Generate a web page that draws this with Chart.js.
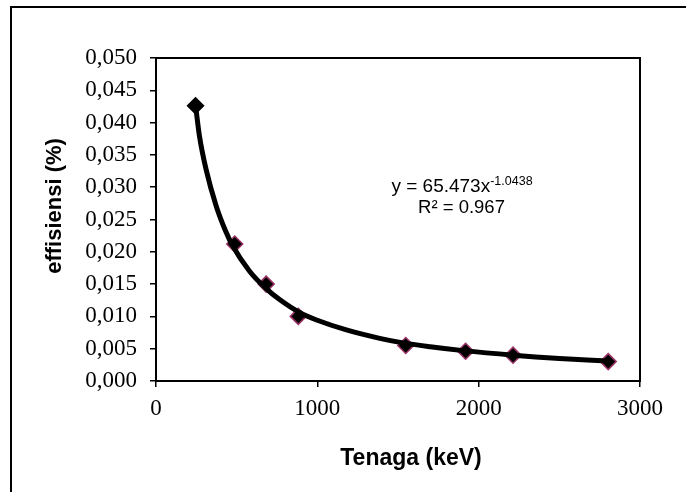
<!DOCTYPE html>
<html>
<head>
<meta charset="utf-8">
<script src="https://cdn.jsdelivr.net/npm/chart.js@4.4.1/dist/chart.umd.min.js"></script>
<style>
  html, body { margin: 0; padding: 0; background: #ffffff; }
  #wrap { width: 686px; height: 492px; position: relative; }
</style>
</head>
<body>
<div id="wrap"><canvas id="c" width="686" height="492"></canvas></div>
<script>
// Measured points (Tenaga in keV, efisiensi)
const energies = [245, 488, 683, 882, 1548, 1919, 2213, 2803];
const efficiencies = [0.0426, 0.0212, 0.0150, 0.0100, 0.0055, 0.0046, 0.0040, 0.0030];

// Trendline
const trendEnergies = [245, 269, 310, 373, 430, 476, 580, 683, 766, 890, 1000, 1180, 1387, 1530, 1700, 1904, 2215, 2500, 2803];
const trendEfficiencies = [0.0427, 0.0380, 0.0328, 0.0271, 0.0233, 0.0209, 0.0170, 0.0143, 0.0126, 0.0106, 0.0094, 0.0079, 0.0066, 0.0059, 0.0053, 0.0047, 0.0040, 0.0035, 0.0031];

// Axes
const xTickValues = [0, 1000, 2000, 3000];
const yTickValues = [0, 0.005, 0.010, 0.015, 0.020, 0.025, 0.030, 0.035, 0.040, 0.045, 0.050];
const xTitle = 'Tenaga (keV)';
const yTitle = 'effisiensi (%)';
const equationMain = 'y = 65.473x';
const equationExp = '-1.0438';
const rSquared = 'R\u00B2 = 0.967';

const pointData = energies.map((x, i) => ({ x: x, y: efficiencies[i] }));
const trendData = trendEnergies.map((x, i) => ({ x: x, y: trendEfficiencies[i] }));

const decorPlugin = {
  id: 'decor',
  beforeDraw(chart) {
    const ctx = chart.ctx;
    ctx.save();
    ctx.fillStyle = '#ffffff';
    ctx.fillRect(0, 0, chart.width, chart.height);
    ctx.strokeStyle = '#000000';
    ctx.lineWidth = 2;
    ctx.strokeRect(11, 7, chart.width + 20, chart.height + 20);
    ctx.restore();
  },
  afterDraw(chart) {
    const ctx = chart.ctx;
    const a = chart.chartArea;
    ctx.save();
    ctx.strokeStyle = '#000000';
    ctx.lineWidth = 2;
    ctx.strokeRect(a.left, a.top, a.right - a.left, a.bottom - a.top);

    // axis titles
    ctx.fillStyle = '#000000';
    ctx.font = 'bold 23px "Liberation Sans", Arial, sans-serif';
    ctx.textAlign = 'center';
    ctx.textBaseline = 'alphabetic';
    ctx.fillText(xTitle, 411, 465);

    ctx.save();
    ctx.translate(61, 206);
    ctx.rotate(-Math.PI / 2);
    ctx.font = 'bold 22px "Liberation Sans", Arial, sans-serif';
    ctx.textAlign = 'center';
    ctx.textBaseline = 'alphabetic';
    ctx.fillText(yTitle, 0, 0);
    ctx.restore();

    // trendline equation
    ctx.font = '19px "Liberation Sans", Arial, sans-serif';
    ctx.textBaseline = 'alphabetic';
    const wMain = ctx.measureText(equationMain).width;
    ctx.font = '12.5px "Liberation Sans", Arial, sans-serif';
    const wExp = ctx.measureText(equationExp).width;
    const cx = 462;
    const startX = cx - (wMain + wExp) / 2;
    ctx.textAlign = 'left';
    ctx.font = '19px "Liberation Sans", Arial, sans-serif';
    ctx.fillText(equationMain, startX, 192);
    ctx.font = '12.5px "Liberation Sans", Arial, sans-serif';
    ctx.fillText(equationExp, startX + wMain, 185);
    ctx.font = '18.5px "Liberation Sans", Arial, sans-serif';
    ctx.textAlign = 'center';
    ctx.fillText(rSquared, 461.5, 213);
    ctx.restore();
  }
};

new Chart(document.getElementById('c'), {
  type: 'scatter',
  data: {
    datasets: [
      {
        label: 'trend',
        data: trendData,
        showLine: true,
        borderColor: '#000000',
        borderWidth: 5,
        pointRadius: 0,
        pointHoverRadius: 0,
        cubicInterpolationMode: 'monotone',
        fill: false,
        order: 0
      },
      {
        label: 'data',
        data: pointData,
        showLine: false,
        pointStyle: 'rectRot',
        pointRadius: 8,
        pointBackgroundColor: '#000000',
        pointBorderColor: (c) => (c.dataIndex === 0 ? '#000000' : '#993366'),
        pointBorderWidth: 1.5,
        order: 1
      }
    ]
  },
  options: {
    responsive: false,
    animation: false,
    devicePixelRatio: 1,
    layout: { padding: { left: 0, top: 58, right: 46, bottom: 0 } },
    plugins: { legend: { display: false }, tooltip: { enabled: false } },
    scales: {
      x: {
        type: 'linear',
        min: 0,
        max: 3000,
        afterBuildTicks(scale) { scale.ticks = xTickValues.map(v => ({ value: v })); },
        afterFit(scale) { scale.height = 111; },
        border: { display: false },
        grid: { drawOnChartArea: false, drawTicks: true, tickLength: 6, color: '#000000', lineWidth: 1.5 },
        ticks: {
          color: '#000000',
          padding: 8,
          font: { family: '"Liberation Serif", "Times New Roman", serif', size: 23 },
          callback: (v) => String(v)
        }
      },
      y: {
        type: 'linear',
        min: 0,
        max: 0.05,
        afterBuildTicks(scale) { scale.ticks = yTickValues.map(v => ({ value: v })); },
        afterFit(scale) { scale.width = 156; },
        border: { display: false },
        grid: { drawOnChartArea: false, drawTicks: true, tickLength: 6, color: '#000000', lineWidth: 1.5 },
        ticks: {
          color: '#000000',
          padding: 13,
          font: { family: '"Liberation Serif", "Times New Roman", serif', size: 23 },
          callback: (v) => Number(v).toFixed(3).replace('.', ',')
        }
      }
    }
  },
  plugins: [decorPlugin]
});
</script>
</body>
</html>
